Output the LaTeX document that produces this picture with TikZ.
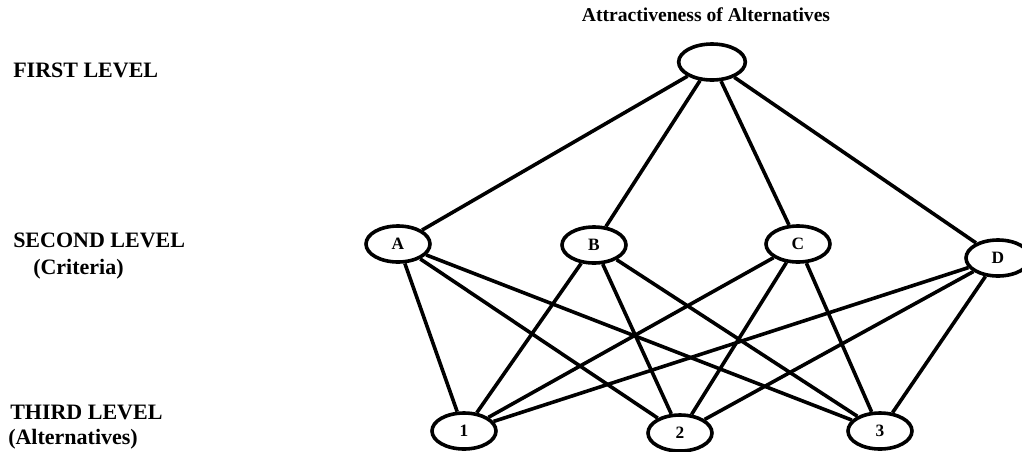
\documentclass[tikz,border=0pt]{standalone}
\usepackage{fontspec}
\setmainfont{Liberation Serif}
\usetikzlibrary{shapes.geometric}

\tikzset{
  lvl/.style = {draw, ellipse, line width = 2.7pt, inner sep = 0pt,
                minimum width = 48pt, minimum height = 27pt,
                font = \bfseries\fontsize{13}{15}\selectfont},
  side/.style = {anchor = west, inner sep = 0pt,
                 font = \bfseries\fontsize{16.5}{19}\selectfont},
  link/.style = {line width = 2.7pt}
}

\begin{document}
\begin{tikzpicture}[x = 0.75pt, y = -0.75pt]
\useasboundingbox (0, 0) rectangle (1022, 451);

% level names on the left
\node[side] (first)  at (13, 70)  {FIRST LEVEL};
\node[side] (second) at (13, 240) {SECOND LEVEL};
\node[side] (crit)   at (33, 269) {(Criteria)};
\node[side] (third)  at (10, 412) {THIRD LEVEL};
\node[side] (alts)   at (8, 439)  {(Alternatives)};

% the hierarchy
\node[lvl, minimum width = 50pt] (goal) at (712, 62) {};
\node[inner sep = 0pt, font = \bfseries\fontsize{14.7}{17}\selectfont]
  (title) at (706, 15) {Attractiveness of Alternatives};

\foreach \n/\x/\y in {A/398/244, B/594/245, C/798/244, D/998/258}
  \node[lvl] (\n) at (\x, \y) {\n};
\foreach \n/\x/\y in {1/464/431, 2/680/433, 3/880/431}
  \node[lvl] (alt\n) at (\x, \y) {\n};

\foreach \c in {A, B, C, D} {
  \draw[link] (goal) -- (\c);
  \foreach \a in {1, 2, 3}
    \draw[link] (\c) -- (alt\a);
}

\end{tikzpicture}
\end{document}
